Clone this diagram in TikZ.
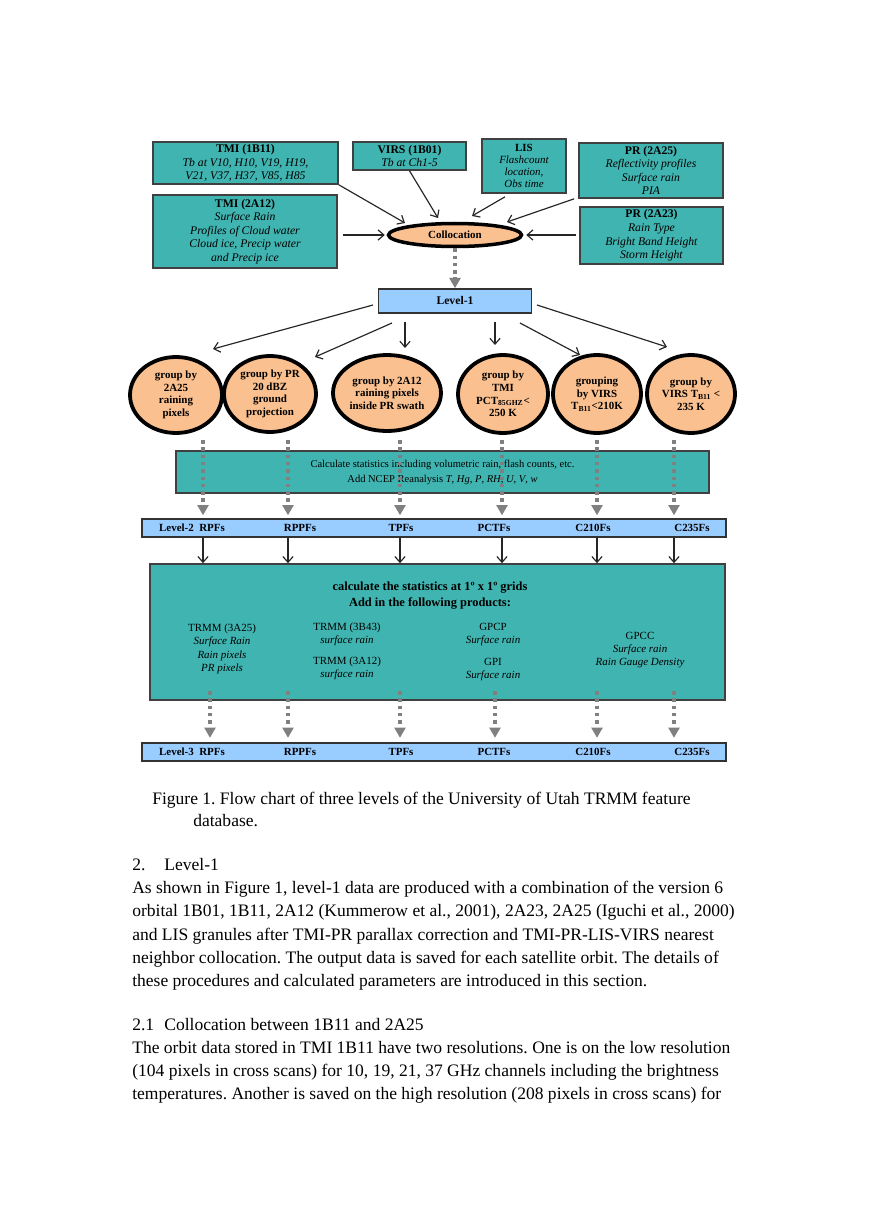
\documentclass[tikz,border=0pt]{standalone}
\usepackage{fontspec}
\setmainfont{Liberation Serif}
\usetikzlibrary{positioning,shapes.geometric,arrows.meta,calc}
\frenchspacing

\definecolor{boxteal}{RGB}{64,180,176}
\definecolor{peach}{RGB}{250,192,143}
\definecolor{barblue}{RGB}{153,204,255}
\definecolor{pipegray}{RGB}{128,128,128}

\newlength{\unitpx}
\setlength{\unitpx}{0.6847pt}

\tikzset{
  boxsize/.style 2 args={minimum width=#1\unitpx, minimum height=#2\unitpx},
  srcbox/.style={draw=black!75, line width=1.1pt, fill=boxteal, align=center,
    inner sep=0pt, font=\fontsize{8}{9.3}\selectfont},
  bubble/.style={ellipse, draw=black, line width=2.6pt, fill=peach, align=center,
    inner sep=0pt, font=\bfseries\fontsize{7.5}{8.7}\selectfont},
  levelbar/.style={draw=black!80, line width=1.1pt, fill=barblue, inner sep=0pt},
  barlabel/.style={font=\bfseries\fontsize{7.5}{9}\selectfont, inner sep=0pt},
  coltext/.style={align=center, inner sep=0pt, font=\fontsize{7.5}{9.1}\selectfont},
  feed/.style={-{Straight Barb[length=4pt,width=7pt]}, line width=0.8pt, black!85},
  pipe/.style={pipegray, line width=2.2pt, dash pattern=on 2.4pt off 2.6pt,
    -{Triangle[length=7pt,width=7.5pt]}},
  bodytext/.style={anchor=base west, inner sep=0pt, font=\fontsize{12}{14}\selectfont}
}

\begin{document}
\begin{tikzpicture}[x=0.6847pt, y=-0.6847pt]
\useasboundingbox (0,0) rectangle (869,1228);
\fill[white] (0,0) rectangle (869,1228);

%input products
\node[srcbox, boxsize={185}{42}] (tmib) at (245.5,163)
  {\textbf{TMI (1B11)}\\\textit{Tb at V10, H10, V19, H19,}\\\textit{V21, V37, H37, V85, H85}};
\node[srcbox, boxsize={184}{73}] (tmic) at (245,231.5)
  {\textbf{TMI (2A12)}\\\textit{Surface Rain}\\\textit{Profiles of Cloud water}\\\textit{Cloud ice, Precip water}\\\textit{and Precip ice}};
\node[srcbox, boxsize={113}{28}] (virs) at (409.5,156)
  {\textbf{VIRS (1B01)}\\\textit{Tb at Ch1-5}};
\node[srcbox, boxsize={84}{54}, font=\fontsize{7.5}{8.4}\selectfont] (lis) at (524,166)
  {\textbf{LIS}\\\textit{Flashcount}\\\textit{location,}\\\textit{Obs time}};
\node[srcbox, boxsize={144}{55}] (pra) at (651,170.5)
  {\textbf{PR (2A25)}\\\textit{Reflectivity profiles}\\\textit{Surface rain}\\\textit{PIA}};
\node[srcbox, boxsize={143}{57}] (prb) at (651.5,235.5)
  {\textbf{PR (2A23)}\\\textit{Rain Type}\\\textit{Bright Band Height}\\\textit{Storm Height}};
\node[ellipse, draw=black, line width=2.4pt, fill=peach, inner sep=0pt, boxsize={133}{23},
  font=\bfseries\fontsize{7.5}{9}\selectfont] (coll) at (455,235) {Collocation};
%
\draw[feed] (tmib.south east) -- ($(coll.center)+(-50,-12)$);
\draw[feed] (virs.south) -- ($(coll.center)+(-17,-17)$);
\draw[feed] ($(lis.south)+(-19,3)$) -- ($(coll.center)+(17,-19)$);
\draw[feed] ($(pra.south west)+(-4,0)$) -- ($(coll.center)+(52,-13)$);
\draw[feed] ($(tmic.east |- coll.west)+(5,0)$) -- ($(coll.west)+(-2,0)$);
\draw[feed] ($(prb.west |- coll.east)+(-3,0)$) -- ($(coll.east)+(3,0)$);

%level-1 and groups
\node[levelbar, boxsize={153}{24}, font=\bfseries\fontsize{8}{9}\selectfont] (lvl) at (455,301) {Level-1};
\draw[pipe] (coll.south) -- (lvl.north);
%
\node[bubble, boxsize={92}{76}] (ga) at (176,395) {group by\\2A25\\raining\\pixels};
\node[bubble, boxsize={92}{76}] (gb) at (270,394) {group by PR\\20 dBZ\\ground\\projection};
\node[bubble, boxsize={108}{76}] (gc) at (387,393) {group by 2A12\\raining pixels\\inside PR swath};
\node[bubble, boxsize={90}{78}] (gd) at (503,394) {group by\\TMI\\PCT\textsubscript{85GHZ}<\\250 K};
\node[bubble, boxsize={88}{78}] (ge) at (597,394) {grouping\\by VIRS\\T\textsubscript{B11}<210K};
\node[bubble, boxsize={88}{78}] (gf) at (691,394) {group by\\VIRS T\textsubscript{B11} <\\235 K};
%
\foreach \g/\sx/\sy/\tx/\ty in {ga/-82/4/37/-46, gb/-63/22/45/-37, gc/-50/21/18/-45,
    gd/40/21/-8/-49, ge/65/22/-17/-39, gf/82/4/-24/-47}
  \draw[feed] ($(lvl.center)+(\sx,\sy)$) -- ($(\g.center)+(\tx,\ty)$);

%level-2
\node[srcbox, boxsize={533}{42}, font=\fontsize{7.2}{10.3}\selectfont] (stat) at (442.5,472)
  {Calculate statistics including volumetric rain, flash counts, etc.\\
   Add NCEP Reanalysis \textit{T}, \textit{Hg}, \textit{P}, \textit{RH}, \textit{U}, \textit{V}, \textit{w}};
\node[levelbar, boxsize={584}{18}] (lvtwo) at (434,528) {};
\foreach \x/\txt [count=\i] in {192/Level-2\enspace RPFs, 300/RPPFs, 401/TPFs,
    494/PCTFs, 593/C210Fs, 692/C235Fs}
  \node[barlabel] (ltwo\i) at (\x,528) {\txt};

%level-3
\node[srcbox, boxsize={575}{136}] (grid) at (437.5,632) {};
\node[align=center, inner sep=0pt, font=\bfseries\fontsize{8.5}{11}\selectfont] (gridtitle) at (430,596)
  {calculate the statistics at 1º x 1º grids\\Add in the following products:};
\node[coltext] (trmma) at (222,649) {TRMM (3A25)\\\textit{Surface Rain}\\\textit{Rain pixels}\\\textit{PR pixels}};
\node[coltext] (trmmb) at (347,634.5) {TRMM (3B43)\\\textit{surface rain}};
\node[coltext] (trmmc) at (347,668.5) {TRMM (3A12)\\\textit{surface rain}};
\node[coltext] (gpcp) at (493,634.5) {GPCP\\\textit{Surface rain}};
\node[coltext] (gpi) at (493,669.5) {GPI\\\textit{Surface rain}};
\node[coltext] (gpcc) at (640,650) {GPCC\\\textit{Surface rain}\\\textit{Rain Gauge Density}};
\node[levelbar, boxsize={584}{18}] (lvthree) at (434,752) {};
\foreach \x/\txt [count=\i] in {192/Level-3\enspace RPFs, 300/RPPFs, 401/TPFs,
    494/PCTFs, 593/C210Fs, 692/C235Fs}
  \node[barlabel] (lthree\i) at (\x,752) {\txt};

%connectors between levels
\foreach \x [count=\i] in {203,288,400,502,597,674}{
  \coordinate (gtop\i) at (\x,440);
  \draw[pipe, shorten >=2pt] (gtop\i) -- (lvtwo.north -| gtop\i);
  \draw[feed] (lvtwo.south -| gtop\i) -- (grid.north -| gtop\i);
}
\foreach \x [count=\i] in {210,288,400,495,597,674}{
  \coordinate (gmid\i) at (\x,691);
  \draw[pipe, shorten >=3pt] (gmid\i) -- (lvthree.north -| gmid\i);
}

%page text
\node[bodytext] (capa) at (152,804) {Figure 1. Flow chart of three levels of the University of Utah TRMM feature};
\node[bodytext] (capb) at (193,826) {database.};
\node[bodytext] (secone) at (132,870) {2.\hspace{13pt}Level-1};
\node[bodytext] (pa) at (132,893.5) {As shown in Figure 1, level-1 data are produced with a combination of the version 6};
\node[bodytext] (pb) at (132,916.5) {orbital 1B01, 1B11, 2A12 (Kummerow et al., 2001), 2A23, 2A25 (Iguchi et al., 2000)};
\node[bodytext] (pc) at (132,940) {and LIS granules after TMI-PR parallax correction and TMI-PR-LIS-VIRS nearest};
\node[bodytext] (pd) at (132,963) {neighbor collocation. The output data is saved for each satellite orbit. The details of};
\node[bodytext] (pe) at (132,986) {these procedures and calculated parameters are introduced in this section.};
\node[bodytext] (sectwo) at (132,1030) {2.1\hspace{7pt}Collocation between 1B11 and 2A25};
\node[bodytext] (qa) at (132,1053) {The orbit data stored in TMI 1B11 have two resolutions. One is on the low resolution};
\node[bodytext] (qb) at (132,1076) {(104 pixels in cross scans) for 10, 19, 21, 37 GHz channels including the brightness};
\node[bodytext] (qc) at (132,1099) {temperatures. Another is saved on the high resolution (208 pixels in cross scans) for};
\end{tikzpicture}
\end{document}
